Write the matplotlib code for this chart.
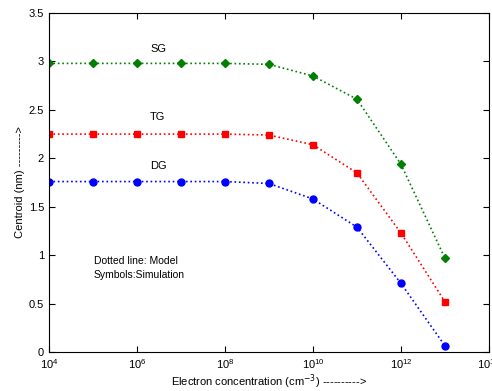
import matplotlib
matplotlib.use("Agg")
import matplotlib.pyplot as plt
from matplotlib.ticker import NullLocator, FixedLocator

plt.rcParams['font.family'] = ['Liberation Sans', 'DejaVu Sans']

## data
conc = [1e4, 1e5, 1e6, 1e7, 1e8, 1e9, 1e10, 1e11, 1e12, 1e13]
sg = [2.98, 2.98, 2.98, 2.98, 2.98, 2.97, 2.85, 2.61, 1.94, 0.97]
tg = [2.25, 2.25, 2.25, 2.25, 2.25, 2.24, 2.14, 1.85, 1.23, 0.52]
dg = [1.76, 1.76, 1.76, 1.76, 1.76, 1.74, 1.58, 1.29, 0.71, 0.065]

fig = plt.figure(figsize=(4.92, 3.91), dpi=100)
ax = fig.add_axes([0.0996, 0.0997, 0.894, 0.867])

ax.plot(conc, sg, ':', color='green', marker='D', markersize=4, linewidth=1.2)
ax.plot(conc, tg, ':', color='red', marker='s', markersize=5, linewidth=1.2)
ax.plot(conc, dg, ':', color='blue', marker='o', markersize=5, linewidth=1.2)

ax.set_xscale('log')
ax.set_xlim(1e4, 1e14)
ax.set_ylim(0, 3.5)
ax.xaxis.set_major_locator(FixedLocator([1e4, 1e6, 1e8, 1e10, 1e12, 1e14]))
ax.xaxis.set_minor_locator(NullLocator())
ax.set_yticks([0, 0.5, 1, 1.5, 2, 2.5, 3, 3.5])
ax.set_yticklabels(['0', '0.5', '1', '1.5', '2', '2.5', '3', '3.5'])
ax.tick_params(direction='in', top=True, right=True, labelsize=8, length=4)

ax.text(10**6.3, 3.13, 'SG', fontsize=8, ha='left', va='center')
ax.text(10**6.3, 2.43, 'TG', fontsize=8, ha='left', va='center')
ax.text(10**6.3, 1.92, 'DG', fontsize=8, ha='left', va='center')
ax.text(10**5.02, 0.94, 'Dotted line: Model', fontsize=7.5, va='center')
ax.text(10**5.02, 0.80, 'Symbols:Simulation', fontsize=7.5, va='center')

ax.set_xlabel('Electron concentration (cm$^{-3}$) ---------->', fontsize=8, labelpad=1)
ax.set_ylabel('Centroid (nm) --------->', fontsize=8, labelpad=3)

plt.savefig('out.png', dpi=100)
